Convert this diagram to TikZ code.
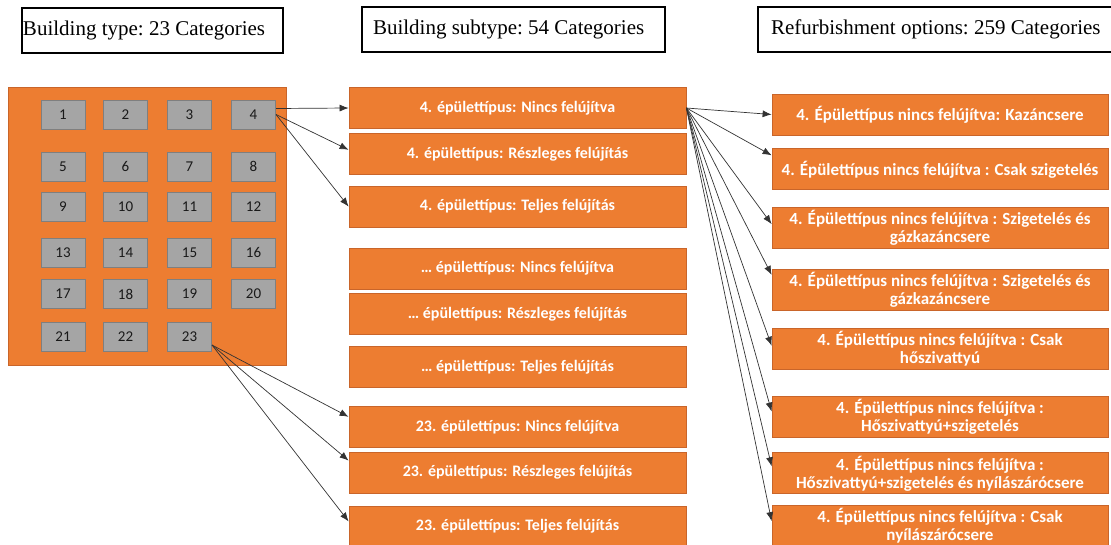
\documentclass[tikz,border=0pt]{standalone}
\usepackage{fontspec}
\setmainfont{Liberation Serif}
\newfontfamily\calibri{Carlito}
\usetikzlibrary{arrows.meta,positioning}

\definecolor{boxorange}{HTML}{ED7D31}
\definecolor{boxedge}{HTML}{C9652A}
\definecolor{cellgrey}{HTML}{A5A5A5}
\definecolor{celledge}{HTML}{7F7F7F}

\begin{document}
\begin{tikzpicture}[
        x=1pt, y=-1pt,
        >={Latex[length=9pt,width=7pt]},
        title/.style={draw, line width=1.2pt, minimum height=45pt, inner ysep=0pt, align=flush left, font=\fontsize{21}{25}\selectfont\frenchspacing},
        block/.style={draw=boxedge, line width=0.8pt, fill=boxorange, text=white, align=center, inner sep=2pt},
        subtype/.style={block, minimum width=337pt, minimum height=41pt, font=\calibri\bfseries\fontsize{16}{18}\selectfont},
        option/.style={block, minimum width=336pt, minimum height=41pt, font=\calibri\bfseries\fontsize{17}{18}\selectfont},
        cell/.style={draw=celledge, line width=1pt, fill=cellgrey, minimum width=44pt, minimum height=29pt, inner sep=0pt, text=black!90, font=\calibri\fontsize{15}{17}\selectfont},
        link/.style={->, draw=black!80, line width=0.7pt}
    ]
    \useasboundingbox (0,0) rectangle (1111,544);

    % Headings
    \node (head1) [title, inner xsep=1pt, text width=259pt] at (152.5,30.5) {Building type: 23 Categories};
    \node (head2) [title, inner xsep=11pt, text width=281pt] at (513.5,29.5) {Building subtype: 54 Categories};
    \node (head3) [title, inner xsep=13pt, text width=340pt] at (941,29.5) {Refurbishment options: 259 Categories};

    % Building types
    \node (types) [draw=boxedge, line width=0.8pt, fill=boxorange, minimum width=278pt, minimum height=278pt] at (147,226) {};

    \node (c1) [cell] at (63,114.5) {1};
    \node (c2) [cell] at (125.5,114.5) {2};
    \node (c3) [cell] at (189.5,114.5) {3};
    \node (c4) [cell] at (253.5,114.5) {4};

    \node (c5) [cell] at (63,166.5) {5};
    \node (c6) [cell] at (125.5,166.5) {6};
    \node (c7) [cell] at (189.5,166.5) {7};
    \node (c8) [cell] at (253.5,166.5) {8};

    \node (c9) [cell] at (63,207) {9};
    \node (c10) [cell] at (125.5,207) {10};
    \node (c11) [cell] at (189.5,207) {11};
    \node (c12) [cell] at (253.5,207) {12};

    \node (c13) [cell] at (63,252.5) {13};
    \node (c14) [cell] at (125.5,252.5) {14};
    \node (c15) [cell] at (189.5,252.5) {15};
    \node (c16) [cell] at (253.5,252.5) {16};

    \node (c17) [cell] at (63,294) {17};
    \node (c18) [cell] at (125.5,294) {18};
    \node (c19) [cell] at (189.5,294) {19};
    \node (c20) [cell] at (253.5,294) {20};

    \node (c21) [cell] at (63,337) {21};
    \node (c22) [cell] at (125.5,337) {22};
    \node (c23) [cell] at (189.5,337) {23};

    % Subtypes
    \node (m1) [subtype] at (517.5,108) {4. épülettípus: Nincs felújítva};
    \node (m2) [subtype, below=4pt of m1] {4. épülettípus: Részleges felújítás};
    \node (m3) [subtype, below=11pt of m2] {4. épülettípus: Teljes felújítás};
    \node (m4) [subtype, below=20pt of m3] {\dots\ épülettípus: Nincs felújítva};
    \node (m5) [subtype, below=4pt of m4] {\dots\ épülettípus: Részleges felújítás};
    \node (m6) [subtype, below=11pt of m5] {\dots\ épülettípus: Teljes felújítás};
    \node (m7) [subtype, below=18pt of m6] {23. épülettípus: Nincs felújítva};
    \node (m8) [subtype, below=4pt of m7] {23. épülettípus: Részleges felújítás};
    \node (m9) [subtype, below=12pt of m8] {23. épülettípus: Teljes felújítás};

    % Refurbishment options
    \node (r1) [option] at (940,114.5) {4. Épülettípus nincs felújítva: Kazáncsere};
    \node (r2) [option, below=13pt of r1] {4. Épülettípus nincs felújítva : Csak szigetelés};
    \node (r3) [option, below=17pt of r2] {4. Épülettípus nincs felújítva : Szigetelés és\\ gázkazáncsere};
    \node (r4) [option, below=20pt of r3] {4. Épülettípus nincs felújítva : Szigetelés és\\ gázkazáncsere};
    \node (r5) [option, below=17pt of r4] {4. Épülettípus nincs felújítva : Csak\\ hőszivattyú};
    \node (r6) [option, below=26pt of r5] {4. Épülettípus nincs felújítva :\\ Hőszivattyú+szigetelés};
    \node (r7) [option, below=15pt of r6] {4. Épülettípus nincs felújítva :\\ Hőszivattyú+szigetelés és nyílászárócsere};
    \node (r8) [option, below=11pt of r7] {4. Épülettípus nincs felújítva : Csak\\ nyílászárócsere};

    % Edges
    \draw[link] ([yshift=6pt]c4.east) -- (m1.west);
    \draw[link] (c4.east) -- ([yshift=4pt]m2.west);
    \draw[link] (c4.east) -- (m3.west);

    \draw[link] ([yshift=-8pt]c23.east) -- ([yshift=10pt]m7.west);
    \draw[link] ([yshift=-8pt]c23.east) -- ([yshift=12pt]m8.west);
    \draw[link] ([yshift=-8pt]c23.east) -- ([yshift=5pt]m9.west);

    \draw[link] (m1.east) -- (r1.west);
    \draw[link] (m1.east) -- ([yshift=14pt]r2.west);
    \draw[link] (m1.east) -- ([yshift=4pt]r3.west);
    \draw[link] (m1.east) -- ([yshift=15pt]r4.west);
    \draw[link] (m1.east) -- ([yshift=3pt]r5.west);
    \draw[link] (m1.east) -- ([yshift=5pt]r6.west);
    \draw[link] (m1.east) -- ([yshift=7pt]r7.west);
    \draw[link] (m1.east) -- ([yshift=5pt]r8.west);

\end{tikzpicture}
\end{document}
